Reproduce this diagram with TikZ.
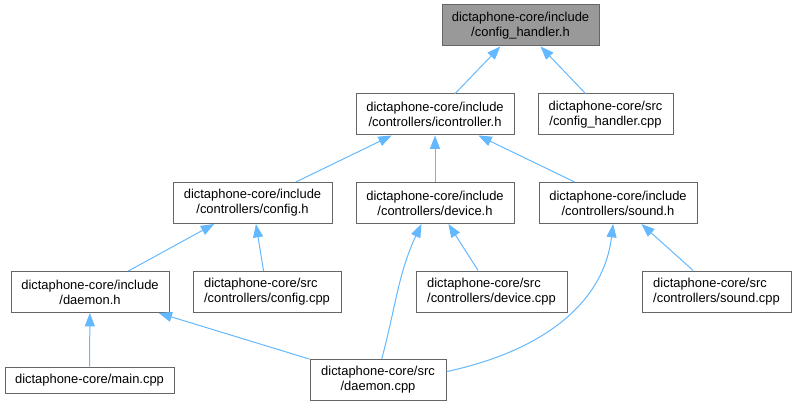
\documentclass[tikz,border=0pt]{standalone}
\usepackage{fontspec}
\setmainfont{Liberation Sans}
\usetikzlibrary{arrows.meta}
\definecolor{dGray}{HTML}{666666}
\definecolor{dFill}{HTML}{999999}
\definecolor{dBlue}{HTML}{63B8FF}

\begin{document}
\begin{tikzpicture}[
  x=0.75pt, y=-0.75pt,
  every node/.style={font=\fontsize{9.7}{11.3}\selectfont},
  fn/.style={draw=dGray, fill=white, line width=0.75pt, inner sep=0pt,
             minimum height=30.75pt, align=center},
  fnl/.style={fn, align=left},
  cur/.style={fn, fill=dFill},
  inc/.style={draw=dBlue, line width=0.75pt,
              -{Triangle[length=10pt, width=7.5pt]}},
]
  % Page
  \useasboundingbox (0,0) rectangle (796,406);

  % Header in focus
  \node[cur, minimum width=117.75pt] (top) at (520.5,25.5)
    {dictaphone-core/include\\/config\_handler.h};

  % Second row
  \node[fn, minimum width=118.5pt] (icon) at (435,114.5)
    {dictaphone-core/include\\/controllers/icontroller.h};
  \node[fn, minimum width=101.25pt] (chcpp) at (605.5,114.5)
    {dictaphone-core/src\\/config\_handler.cpp};

  % Controller headers
  \node[fn, minimum width=119.25pt] (cfgh) at (252.5,203)
    {dictaphone-core/include\\/controllers/config.h};
  \node[fn, minimum width=118.5pt] (devh) at (435,203)
    {dictaphone-core/include\\/controllers/device.h};
  \node[fn, minimum width=118.5pt] (sndh) at (618,203)
    {dictaphone-core/include\\/controllers/sound.h};

  % Fourth row
  \node[fn, minimum width=118.5pt] (dmnh) at (90,292)
    {dictaphone-core/include\\/daemon.h};
  \node[fnl, minimum width=111pt] (cfgcpp) at (267,292)
    {dictaphone-core/src\\/controllers/config.cpp};
  \node[fnl, minimum width=113.25pt] (devcpp) at (491.5,291.5)
    {dictaphone-core/src\\/controllers/device.cpp};
  \node[fnl, minimum width=111.75pt] (sndcpp) at (716.5,291.5)
    {dictaphone-core/src\\/controllers/sound.cpp};

  % Bottom row
  \node[fn, minimum width=126.75pt, minimum height=19.5pt] (main) at (89.5,380)
    {dictaphone-core/main.cpp};
  \node[fn, minimum width=102pt] (dcpp) at (378,380)
    {dictaphone-core/src\\/daemon.cpp};

  % Include edges
  \foreach \a/\b in {icon/top, chcpp/top, cfgh/icon, devh/icon, sndh/icon,
                     dmnh/cfgh, cfgcpp/cfgh, devcpp/devh, sndcpp/sndh,
                     main/dmnh, dcpp/dmnh} {
    \draw[inc] (\a) -- (\b);
  }
  \draw[inc] (dcpp.80) to[out=75, in=-115] (devh.237);
  \draw[inc] (dcpp.7) to[out=12, in=-97] (sndh.257);
\end{tikzpicture}
\end{document}
